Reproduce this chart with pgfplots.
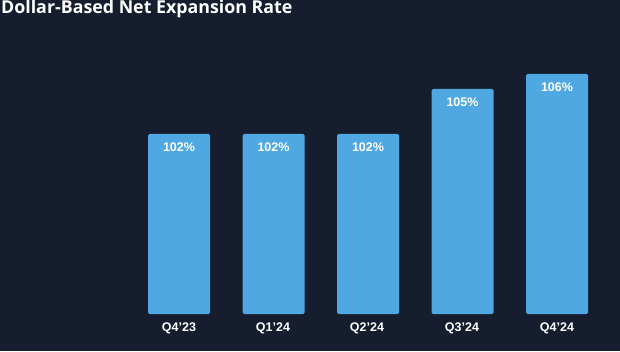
\documentclass[border=0pt]{standalone}
\usepackage{fontspec}
\setmainfont{Liberation Sans}
\newfontfamily\titlefont{Open Sans}
\usepackage{pgfplots}
\pgfplotsset{compat=1.18}
\definecolor{bg}{HTML}{151D2E}
\definecolor{barc}{HTML}{50A8E2}
\begin{document}
\begin{tikzpicture}[x=1pt,y=1pt]
\fill[bg] (0,0) rectangle (620,351);
\node[anchor=base west, text=white, inner sep=0pt, font=\titlefont\bfseries\fontsize{17.8}{20}\selectfont] at (1,337) {Dollar-Based Net Expansion Rate};
\begin{axis}[
  at={(131.75pt,37pt)}, anchor=south west,
  scale only axis, width=472.5pt, height=300pt,
  xmin=-0.5, xmax=4.5, ymin=90, ymax=110,
  axis lines=none,
  xtick=\empty, ytick=\empty,
  clip=false,
  ybar, bar width=62pt,
  /pgf/number format/assume math mode=true,
  nodes near coords={\pgfmathprintnumber{\pgfplotspointmeta}\%},
  every node near coord/.append style={anchor=north, yshift=-5pt, text=white, font=\bfseries\fontsize{12.5}{14}\selectfont},
]
\addplot[fill=barc, draw=none, rounded corners=1.5pt] coordinates {(0,102) (1,102) (2,102) (3,105) (4,106)};
\end{axis}
\foreach \x/\l in {179/Q4'23,273/Q1'24,367/Q2'24,462/Q3'24,557/Q4'24}{
  \node[text=white, font=\bfseries\fontsize{12.5}{14}\selectfont, anchor=base] at (\x,19.5) {\l};
}
\end{tikzpicture}
\end{document}
